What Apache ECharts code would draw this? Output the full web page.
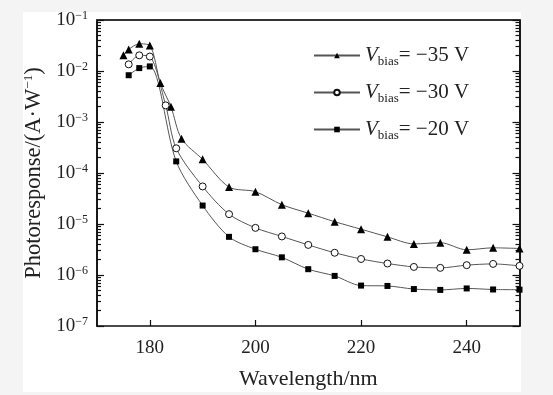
<!DOCTYPE html>
<html>
<head>
<meta charset="utf-8">
<script src="https://cdn.jsdelivr.net/npm/echarts@6/dist/echarts.min.js"></script>
<style>
html,body{margin:0;padding:0;background:#f4f4f4;}
#bg{position:absolute;left:23px;top:12px;width:498px;height:380px;background:#fff;}
#c{position:absolute;left:0;top:0;width:553px;height:395px;}
</style>
</head>
<body>
<div id="bg"></div>
<div id="c"></div>
<script>
// ---- data ----
const xTicks = [180, 200, 220, 240];
const yDecades = [1e-7, 1e-6, 1e-5, 1e-4, 1e-3, 1e-2, 1e-1];

const wl35 = [175, 176, 178, 180, 182, 184, 186, 190, 195, 200, 205, 210, 215, 220, 225, 230, 235, 240, 245, 250];
const v35  = [0.0203, 0.0265, 0.0341, 0.0316, 0.0058, 0.0020, 4.7e-4, 1.85e-4, 5.3e-5, 4.3e-5, 2.39e-5, 1.63e-5, 1.11e-5, 7.9e-6, 5.6e-6, 4.07e-6, 4.3e-6, 3.12e-6, 3.41e-6, 3.31e-6];

const wl30 = [176, 178, 180, 183, 185, 190, 195, 200, 205, 210, 215, 220, 225, 230, 235, 240, 245, 250];
const v30  = [0.0135, 0.0203, 0.0192, 0.00212, 3.05e-4, 5.45e-5, 1.56e-5, 8.4e-6, 5.7e-6, 3.89e-6, 2.73e-6, 2.06e-6, 1.68e-6, 1.44e-6, 1.38e-6, 1.56e-6, 1.65e-6, 1.51e-6];

const wl20 = [176, 178, 180, 185, 190, 195, 200, 205, 210, 215, 220, 225, 230, 235, 240, 245, 250];
const v20  = [0.00826, 0.0114, 0.0123, 1.69e-4, 2.3e-5, 5.6e-6, 3.2e-6, 2.22e-6, 1.30e-6, 9.6e-7, 6.2e-7, 6.1e-7, 5.3e-7, 5.1e-7, 5.45e-7, 5.2e-7, 5.15e-7];

const seriesNames = ['-35', '-30', '-20'];
const seriesLabels = ['−35 V', '−30 V', '−20 V'];

// minor ticks (2..9 within each decade)
const yMinor = [];
for (let i = 0; i < yDecades.length - 1; i++) {
  for (let k = 2; k <= 9; k++) yMinor.push(k * yDecades[i]);
}

const FONT = 'Liberation Serif';
const chart = echarts.init(document.getElementById('c'), null, {renderer: 'canvas'});

const pairs = (xs, ys) => xs.map((x, i) => [x, ys[i]]);

function yAxisDef(pos, ticks, len, labels) {
  return {
    type: 'log', logBase: 10, min: 1e-7, max: 1e-1, position: pos,
    axisLine: {show: true, lineStyle: {color: '#111', width: 1.6}},
    axisTick: {show: true, inside: true, length: len, customValues: ticks, lineStyle: {color: '#111', width: 1.2}},
    splitLine: {show: false},
    axisLabel: labels ? {
      show: true, margin: 9, customValues: yDecades,
      formatter: v => '{b|10}{e|−' + Math.round(-Math.log10(v)) + '}',
      rich: {
        b: {fontFamily: FONT, fontSize: 19, color: '#222'},
        e: {fontFamily: FONT, fontSize: 12, color: '#222', verticalAlign: 'top', padding: [0, 0, 9, 0]}
      }
    } : {show: false},
    name: labels ? '{a|Photoresponse/(A·W}{e|−1}{a|)}' : '',
    nameLocation: 'middle', nameGap: 50, nameRotate: 90,
    nameTextStyle: {
      rich: {
        a: {fontFamily: FONT, fontSize: 22.5, color: '#222'},
        e: {fontFamily: FONT, fontSize: 13, color: '#222', verticalAlign: 'top', padding: [0, 0, 10, 0]}
      }
    }
  };
}

const option = {
  animation: false,
  backgroundColor: 'transparent',
  grid: {left: 97, right: 33.5, top: 20, bottom: 63},
  legend: {
    orient: 'vertical', left: 308, top: 40, itemGap: 14,
    itemWidth: 46, itemHeight: 7,
    data: seriesNames,
    formatter: name => '{v|V}{s|bias}{t|= ' + seriesLabels[seriesNames.indexOf(name)] + '}',
    textStyle: {
      rich: {
        v: {fontFamily: FONT, fontSize: 21, fontStyle: 'italic', color: '#222'},
        s: {fontFamily: FONT, fontSize: 13, color: '#222', verticalAlign: 'bottom', padding: [12, 0, 0, 0]},
        t: {fontFamily: FONT, fontSize: 21, color: '#222'}
      }
    }
  },
  xAxis: [{
    type: 'value', min: 170, max: 250, position: 'bottom',
    axisLine: {show: true, lineStyle: {color: '#111', width: 1.6}},
    axisTick: {show: true, inside: true, length: 6, customValues: xTicks, lineStyle: {color: '#111', width: 1.2}},
    axisLabel: {customValues: xTicks, fontFamily: FONT, fontSize: 19, color: '#222', margin: 13},
    splitLine: {show: false},
    name: 'Wavelength/nm', nameLocation: 'middle', nameGap: 42,
    nameTextStyle: {fontFamily: FONT, fontSize: 22, color: '#222'}
  }, {
    type: 'value', min: 170, max: 250, position: 'top',
    axisLine: {show: true, lineStyle: {color: '#333', width: 2}},
    axisTick: {show: false}, axisLabel: {show: false}, splitLine: {show: false}
  }],
  yAxis: [
    yAxisDef('left', yDecades, 7, true),
    yAxisDef('left', yMinor, 4, false),
    yAxisDef('right', yDecades, 7, false),
    yAxisDef('right', yMinor, 4, false)
  ],
  series: [
    {name: '-35', type: 'line', data: pairs(wl35, v35), smooth: 0.3, symbol: 'triangle', symbolSize: 8,
     lineStyle: {color: '#555', width: 1}, itemStyle: {color: '#000'}},
    {name: '-30', type: 'line', data: pairs(wl30, v30), smooth: 0.3, symbol: 'circle', symbolSize: 7,
     lineStyle: {color: '#555', width: 1}, itemStyle: {color: '#fff', borderColor: '#111', borderWidth: 1}},
    {name: '-20', type: 'line', data: pairs(wl20, v20), smooth: 0.3, symbol: 'rect', symbolSize: 6,
     lineStyle: {color: '#555', width: 1}, itemStyle: {color: '#000'}}
  ]
};
chart.setOption(option);
</script>
</body>
</html>
